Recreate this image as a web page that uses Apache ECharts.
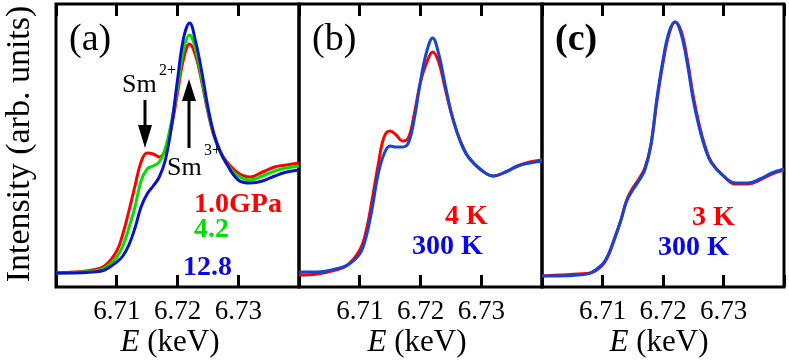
<!DOCTYPE html>
<html><head><meta charset="utf-8">
<script src="https://cdn.jsdelivr.net/npm/echarts@6/dist/echarts.min.js"></script>
<style>html,body{margin:0;padding:0;background:#fff}#c{width:789px;height:363px}</style>
</head><body><div id="c"></div>
<script>
// Energy grid (keV)
const energy = [6.700, 6.703, 6.706, 6.708, 6.710, 6.711, 6.712, 6.713, 6.714, 6.715, 6.716, 6.717, 6.718, 6.719, 6.720, 6.721, 6.722, 6.723, 6.724, 6.725, 6.726, 6.727, 6.728, 6.730, 6.732, 6.734, 6.736, 6.738, 6.740];
// (a) pressure dependence
const aRed   = [0.14, 0.15, 0.17, 0.21, 0.36, 0.53, 0.76, 1.01, 1.25, 1.34, 1.33, 1.30, 1.37, 1.60, 1.94, 2.28, 2.43, 2.31, 2.05, 1.75, 1.51, 1.36, 1.26, 1.14, 1.10, 1.15, 1.20, 1.22, 1.24];
const aGreen = [0.14, 0.145, 0.16, 0.19, 0.30, 0.41, 0.59, 0.80, 1.06, 1.18, 1.21, 1.25, 1.39, 1.65, 1.99, 2.37, 2.52, 2.37, 2.08, 1.77, 1.52, 1.35, 1.24, 1.11, 1.07, 1.11, 1.16, 1.19, 1.21];
const aBlue  = [0.14, 0.14, 0.15, 0.17, 0.25, 0.31, 0.42, 0.59, 0.80, 0.93, 1.01, 1.10, 1.27, 1.60, 2.07, 2.49, 2.64, 2.45, 2.15, 1.80, 1.53, 1.36, 1.24, 1.07, 1.04, 1.06, 1.11, 1.15, 1.17];
// (b) temperature dependence
const bRed   = [0.12, 0.13, 0.17, 0.22, 0.37, 0.55, 0.86, 1.21, 1.50, 1.56, 1.52, 1.46, 1.49, 1.74, 2.05, 2.24, 2.35, 2.25, 2.00, 1.75, 1.55, 1.40, 1.29, 1.17, 1.11, 1.15, 1.21, 1.25, 1.27];
const bBlue  = [0.15, 0.15, 0.18, 0.22, 0.33, 0.49, 0.77, 1.12, 1.33, 1.41, 1.40, 1.40, 1.44, 1.69, 2.06, 2.35, 2.49, 2.33, 2.04, 1.76, 1.55, 1.39, 1.29, 1.17, 1.11, 1.15, 1.21, 1.24, 1.26];
// (c) temperature dependence
const cRed   = [0.11, 0.12, 0.13, 0.14, 0.22, 0.32, 0.48, 0.66, 0.87, 0.99, 1.08, 1.19, 1.42, 1.86, 2.24, 2.53, 2.65, 2.56, 2.28, 1.91, 1.62, 1.40, 1.25, 1.11, 1.03, 1.03, 1.07, 1.13, 1.17];
const cBlue  = [0.11, 0.11, 0.12, 0.14, 0.23, 0.33, 0.49, 0.66, 0.86, 0.97, 1.06, 1.17, 1.42, 1.89, 2.27, 2.55, 2.65, 2.53, 2.24, 1.87, 1.59, 1.38, 1.24, 1.11, 1.04, 1.04, 1.08, 1.14, 1.18];

const xTicks = [6.71, 6.72, 6.73];
const panelLabels = ['(a)', '(b)', '(c)'];
const legendA = ['1.0GPa', '4.2', '12.8'];
const legendB = ['4 K', '300 K'];
const legendC = ['3 K', '300 K'];

const FONT = 'Liberation Serif';
const RED = '#ff0000', GREEN = '#00e000', BLUE_A = '#0a12c8', BLUE_BC = '#1446d2', BLUE_T = '#0808e6';

const grids = [
  {left: 56, top: 4, width: 243, height: 283},
  {left: 299, top: 4, width: 243, height: 283},
  {left: 542, top: 4, width: 242, height: 283}
].map(g => Object.assign(g, {show: true, borderColor: '#000', borderWidth: 3, backgroundColor: 'transparent'}));

const xAxes = [], yAxes = [];
for (let i = 0; i < 3; i++) {
  const base = {
    gridIndex: i, type: 'value', min: 6.70, max: 6.74, interval: 0.01,
    axisLine: {show: false}, splitLine: {show: false},
    axisTick: {inside: true, length: 12, lineStyle: {width: 3, color: '#000'}}
  };
  xAxes.push(Object.assign({}, base, {
    position: 'bottom',
    axisLabel: {margin: 11, fontSize: 27, color: '#000', fontFamily: FONT,
      formatter: v => xTicks.some(t => Math.abs(t - v) < 1e-6) ? v.toFixed(2) : ''}
  }));
  xAxes.push(Object.assign({}, base, {position: 'top', axisLabel: {show: false}}));
  yAxes.push({gridIndex: i, type: 'value', min: 0, max: 2.83, show: false});
}

function line(idx, vals, color) {
  return {type: 'line', xAxisIndex: idx * 2, yAxisIndex: idx, smooth: 0.4, showSymbol: false,
    data: energy.map((e, k) => [e, vals[k]]), lineStyle: {width: 3, color: color}, itemStyle: {color: color}};
}

function txt(x, y, text, size, color, opts) {
  return Object.assign({type: 'text', x: x, y: y, z: 100,
    style: Object.assign({text: text, fontSize: size, fill: color, fontFamily: FONT, align: 'left', verticalAlign: 'middle'}, opts || {})});
}

const graphic = [
  // y-axis title
  {type: 'text', x: 20, y: 144, rotation: Math.PI / 2, z: 100,
    style: {text: 'Intensity (arb. units)', fontSize: 34, fill: '#000', fontFamily: FONT, align: 'center', verticalAlign: 'middle'}},
  // x-axis titles
  ...[170, 417, 659].map(cx => ({type: 'text', x: cx, y: 343, z: 100,
    style: {text: '{i|E} (keV)', fontSize: 31, fill: '#000', fontFamily: FONT, align: 'center', verticalAlign: 'middle',
      rich: {i: {fontStyle: 'italic', fontSize: 31, fontFamily: FONT, fill: '#000'}}}})),
  // panel labels
  txt(69, 40, panelLabels[0], 38, '#000'),
  txt(312, 40, panelLabels[1], 38, '#000'),
  txt(555, 40, panelLabels[2], 38, '#000', {fontWeight: 'bold'}),
  // legends
  txt(194, 205, legendA[0], 28, RED, {fontWeight: 'bold'}),
  txt(194, 230, legendA[1], 28, GREEN, {fontWeight: 'bold'}),
  txt(183, 268, legendA[2], 28, BLUE_T, {fontWeight: 'bold'}),
  txt(445, 217, legendB[0], 28, RED, {fontWeight: 'bold'}),
  txt(412, 247, legendB[1], 28, BLUE_T, {fontWeight: 'bold'}),
  txt(692, 218, legendC[0], 28, RED, {fontWeight: 'bold'}),
  txt(658, 248, legendC[1], 28, BLUE_T, {fontWeight: 'bold'}),
  // Sm2+ annotation
  txt(122, 85, 'Sm', 26, '#000'),
  txt(159, 71, '2+', 16, '#000'),
  {type: 'line', z: 100, shape: {x1: 145, y1: 100, x2: 145, y2: 128}, style: {stroke: '#000', lineWidth: 3}},
  {type: 'polygon', z: 100, shape: {points: [[138, 125], [152, 125], [145, 148]]}, style: {fill: '#000'}},
  // Sm3+ annotation
  txt(167, 168, 'Sm', 26, '#000'),
  txt(204, 151, '3+', 16, '#000'),
  {type: 'line', z: 100, shape: {x1: 189, y1: 98, x2: 189, y2: 148}, style: {stroke: '#000', lineWidth: 3}},
  {type: 'polygon', z: 100, shape: {points: [[182, 101], [196, 101], [189, 79]]}, style: {fill: '#000'}}
];

const chart = echarts.init(document.getElementById('c'), null, {renderer: 'canvas'});
chart.setOption({
  animation: false,
  backgroundColor: '#fff',
  grid: grids,
  xAxis: xAxes,
  yAxis: yAxes,
  series: [
    line(0, aRed, RED), line(0, aGreen, GREEN), line(0, aBlue, BLUE_A),
    line(1, bRed, RED), line(1, bBlue, BLUE_BC),
    line(2, cRed, RED), line(2, cBlue, BLUE_BC)
  ],
  graphic: graphic
});
</script>
</body></html>
